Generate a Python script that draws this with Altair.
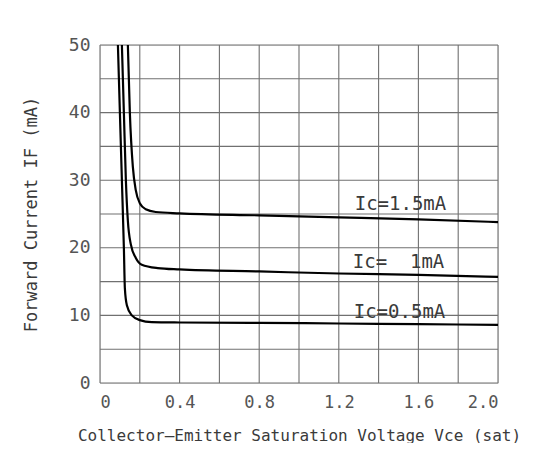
import altair as alt
import pandas as pd

# Curve data
vce_15 = [0.14, 0.15, 0.165, 0.18, 0.20, 0.23, 0.28, 0.40, 0.80, 1.20, 1.60, 2.00]
if_15  = [50.0, 40.0, 32.0, 28.5, 26.6, 25.7, 25.3, 25.1, 24.8, 24.5, 24.2, 23.8]

vce_10 = [0.11, 0.12, 0.13, 0.14, 0.155, 0.18, 0.21, 0.29, 0.40, 0.80, 1.20, 1.60, 2.00]
if_10  = [50.0, 40.0, 30.0, 24.0, 20.5, 18.5, 17.5, 17.0, 16.8, 16.5, 16.2, 16.0, 15.7]

vce_05 = [0.09, 0.10, 0.11, 0.12, 0.125, 0.135, 0.16, 0.20, 0.26, 0.40, 0.80, 1.20, 1.60, 2.00]
if_05  = [50.0, 40.0, 30.0, 20.0, 14.0, 11.5, 10.0, 9.3, 9.0, 8.95, 8.9, 8.8, 8.7, 8.6]

labels  = ["Ic=1.5mA", "Ic= \u00a01mA", "Ic=0.5mA"]
label_x = [1.51, 1.50, 1.505]
label_y = [25.6, 17.0, 9.6]

x_grid = [round(i * 0.2, 1) for i in range(11)]
y_grid = [i * 5 for i in range(11)]

rows = []
for name, xs, ys in [("1.5", vce_15, if_15), ("1.0", vce_10, if_10), ("0.5", vce_05, if_05)]:
    for i, (x, y) in enumerate(zip(xs, ys)):
        rows.append({"series": name, "order": i, "vce": x, "fwd": y})
df = pd.DataFrame(rows)
lab = pd.DataFrame({"text": labels, "vce": label_x, "fwd": label_y})
gx = pd.DataFrame({"vce": x_grid})
gy = pd.DataFrame({"fwd": y_grid})

FONT = "DejaVu Sans Mono"
GRID = "#707070"
xscale = alt.Scale(domain=[0, 2.0], nice=False, zero=False)
yscale = alt.Scale(domain=[0, 50], nice=False)

xaxis = alt.Axis(
    values=[0, 0.4, 0.8, 1.2, 1.6, 2.0], title="Collector\u2013Emitter Saturation Voltage Vce (sat)",
    labelExpr="datum.value == 0 ? '0' : format(datum.value, '.1f')",
    grid=False, ticks=False, domain=False,
    labelFont=FONT, labelFontSize=17, labelColor="#555",
    labelPadding=11, titleFont=FONT, titleFontSize=16, titleFontWeight="normal",
    titleColor="#3a3a3a", titlePadding=17,
)
yaxis = alt.Axis(
    values=[0, 10, 20, 30, 40, 50], title="Forward Current IF (mA)",
    grid=False, ticks=False, domain=False,
    labelFont=FONT, labelFontSize=18, labelColor="#555",
    labelPadding=10, titleFont=FONT, titleFontSize=17, titleFontWeight="normal",
    titleColor="#3a3a3a", titlePadding=28,
)

vgrid = alt.Chart(gx).mark_rule(color=GRID, strokeWidth=1.1).encode(
    x=alt.X("vce:Q", scale=xscale, axis=xaxis),
)
hgrid = alt.Chart(gy).mark_rule(color=GRID, strokeWidth=1.1).encode(
    y=alt.Y("fwd:Q", scale=yscale, axis=yaxis),
)

lines = alt.Chart(df).mark_line(color="black", strokeWidth=2.2, interpolate="monotone").encode(
    x=alt.X("vce:Q", scale=xscale),
    y=alt.Y("fwd:Q", scale=yscale),
    detail="series:N",
    order="order:Q",
)

texts = alt.Chart(lab).mark_text(font=FONT, fontSize=19, color="#3a3a3a", baseline="alphabetic").encode(
    x=alt.X("vce:Q", scale=xscale),
    y=alt.Y("fwd:Q", scale=yscale),
    text="text:N",
)

chart = (vgrid + hgrid + lines + texts).properties(
    width=398, height=338,
    autosize=alt.AutoSizeParams(type="none"),
    padding={"left": 92, "top": 37, "right": 30, "bottom": 60},
).configure_view(stroke=GRID, strokeWidth=1.1).configure(background="white")

chart.save("out.html", embed_options={"renderer": "svg", "actions": False})
